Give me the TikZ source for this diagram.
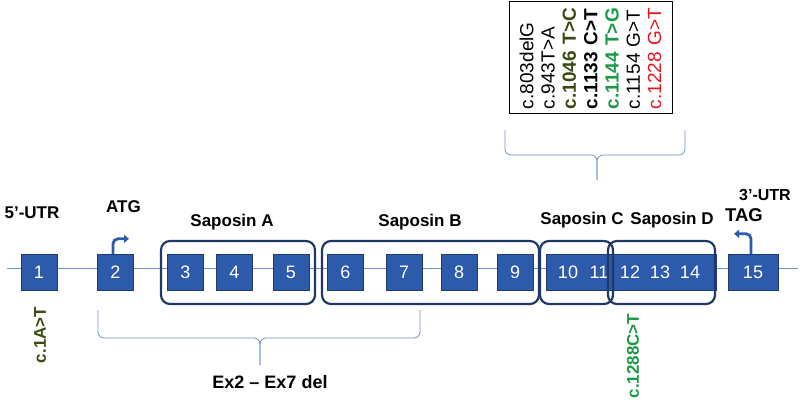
\documentclass[tikz,border=0pt]{standalone}
\usepackage{fontspec}
\setmainfont{Liberation Sans}
\usetikzlibrary{arrows.meta}
\definecolor{exonblue}{HTML}{2E5AAC}
\definecolor{exonedge}{HTML}{1F3C7A}
\definecolor{domedge}{HTML}{1F3864}
\definecolor{intronblue}{HTML}{6F96CF}
\definecolor{braceblue}{HTML}{7090C0}
\definecolor{mutolive}{HTML}{3B4A10}
\definecolor{mutgreen}{HTML}{1A9A45}
\definecolor{mutred}{HTML}{E8141B}

\begin{document}
\begin{tikzpicture}[x=1pt,y=-1pt]
    \tikzstyle{exon}=[rectangle,draw=exonedge,fill=exonblue,text=white,minimum width=36pt,minimum height=36pt,inner sep=0pt,font=\fontsize{18}{18}\selectfont]
    \tikzstyle{exnum}=[text=white,inner sep=0pt,font=\fontsize{18}{18}\selectfont]
    \tikzstyle{sapbox}=[rectangle,rounded corners=9pt,draw=domedge,line width=2.2pt,minimum height=63pt]
    \tikzstyle{title}=[inner sep=0pt,font=\bfseries\fontsize{17}{17}\selectfont]
    \tikzstyle{mut}=[rotate=90,inner sep=0pt,font=\bfseries\fontsize{17}{17}\selectfont]
    \tikzstyle{tss}=[draw=exonblue,line width=2.8pt,rounded corners=5pt,-{Triangle[length=5pt,width=8pt]}]
    \tikzstyle{brace}=[draw=braceblue,line width=0.8pt,rounded corners=6pt]
    \useasboundingbox (0,0) rectangle (800,404);
    % intron line
    \coordinate (left) at (7,268);
    \coordinate (right) at (798,268);
    \draw[intronblue,line width=1pt] (left) -- (right);
    % exons
    \node[exon] (e1) at (39,272) {1};
    \node[exon] (e2) at (115.5,272) {2};
    \node[exon] (e3) at (185.5,272) {3};
    \node[exon] (e4) at (234.5,272) {4};
    \node[exon] (e5) at (291,272) {5};
    \node[exon] (e6) at (345.5,272) {6};
    \node[exon] (e7) at (404,272) {7};
    \node[exon] (e8) at (459,272) {8};
    \node[exon] (e9) at (515,272) {9};
    \node[exon,minimum width=170pt] (bar) at (631,272) {};
    \node[exnum] (e10) at (568,272) {10};
    \node[exnum] (e11) at (599,272) {11};
    \node[exnum] (e12) at (630,272) {12};
    \node[exnum] (e13) at (660,272) {13};
    \node[exnum] (e14) at (690,272) {14};
    \node[exon,minimum width=50pt] (e15) at (753,272) {15};
    % saposin domains
    \node[sapbox,minimum width=154pt] (sapA) at (238,272.5) {};
    \node[sapbox,minimum width=217pt] (sapB) at (430.5,272.5) {};
    \node[sapbox,minimum width=73pt] (sapC) at (576.5,272.5) {};
    \node[sapbox,minimum width=107pt] (sapD) at (661.5,272.5) {};
    \node[title] (tA) at (232,222) {Saposin A};
    \node[title] (tB) at (420,222) {Saposin B};
    \node[title] (tC) at (582,220) {Saposin C};
    \node[title] (tD) at (672,220) {Saposin D};
    % start and stop
    \node[title] (utr5) at (32,213) {5’-UTR};
    \node[title] (atg) at (123.5,207) {ATG};
    \node[title,font=\bfseries\fontsize{16}{16}\selectfont] (utr3) at (765,195) {3’-UTR};
    \node[title,font=\bfseries\fontsize{18.5}{18.5}\selectfont] (tag) at (744,215) {TAG};
    \draw[tss] ([xshift=-2.5pt]e2.north) |- ++(16,-15);
    \draw[tss] ([xshift=-2pt]e15.north) |- ++(-17,-20);
    % mutations
    \node[mut,text=mutolive] (m1) at (40,335) {c.1A>T};
    \node[mut,text=mutgreen] (m1288) at (633,356) {c.1288C>T};
    \node[rotate=90,draw,line width=0.9pt,text width=104pt,inner xsep=4pt,minimum height=163pt,align=left,font=\fontsize{19}{21.3}\selectfont] (muts) at (590.5,57) {c.803delG\\
      c.943T>A\\
      \textbf{\textcolor{mutolive}{c.1046 T>C}}\\
      \textbf{c.1133 C>T}\\
      \textbf{\textcolor{mutgreen}{c.1144 T>G}}\\
      c.1154 G>T\\
      \textcolor{mutred}{c.1228 G>T}};
    % braces
    \draw[brace] (505,130) -- (505,155) -- (597,155) -- (597,180);
    \draw[brace] (685,130) -- (685,155) -- (597,155) -- (597,180);
    \draw[brace] (98,310) -- (98,338) -- (260,338) -- (260,365);
    \draw[brace] (420,310) -- (420,338) -- (260,338) -- (260,365);
    \node[title,font=\bfseries\fontsize{18}{18}\selectfont] (del) at (270,382) {Ex2 -- Ex7 del};
\end{tikzpicture}
\end{document}
